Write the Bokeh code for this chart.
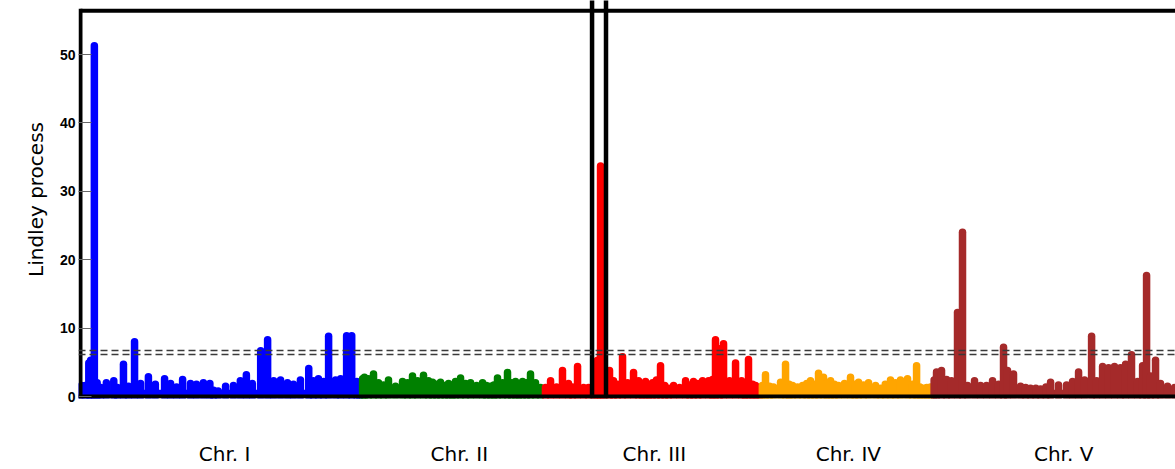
from bokeh.plotting import figure
from bokeh.models import Range1d, Span, FixedTicker
from bokeh.embed import file_html
from bokeh.resources import INLINE

# ---------------- data ----------------
chrom_names = ["Chr. I", "Chr. II", "Chr. III", "Chr. IV", "Chr. V"]
chrom_lengths = [30.43, 19.70, 23.46, 18.59, 26.98]          # Mb
chrom_colors = ["#0000FF", "#008000", "#FF0000", "#FFA500", "#A52A2A"]
label_pos = [15.6, 41.0, 62.1, 83.1, 106.4]                   # Mb, genome-wide
base_level = [1.0, 1.2, 1.0, 1.1, 1.0]

# positions within chromosome (Mb) and Lindley score of local maxima
chr1_pos = [0.1, 0.5, 0.9, 1.1, 1.5, 1.8, 2.2, 2.8, 3.6, 4.0, 4.65, 5.2, 5.85, 6.5,
            7.35, 8.1, 9.1, 9.75, 10.4, 11.05, 11.9, 12.55, 13.3, 14.0, 14.4, 14.9,
            15.7, 16.55, 17.3, 17.95, 18.6, 19.5, 20.25, 20.9, 21.65, 22.4, 23.05,
            23.8, 24.7, 25.2, 25.75, 26.3, 26.85, 27.6, 28.15, 28.8, 29.35, 29.9, 30.2]
chr1_val = [1.6, 1.6, 4.9, 5.3, 51.3, 2.0, 1.3, 2.0, 2.3, 1.3, 4.7, 1.5, 8.0, 1.9,
            2.9, 1.8, 2.6, 1.9, 1.4, 2.5, 1.9, 1.8, 2.0, 1.9, 0.9, 0.8,
            1.5, 1.6, 2.3, 3.2, 1.9, 6.7, 8.3, 2.3, 2.4, 2.0, 1.8,
            2.4, 4.1, 2.3, 2.6, 2.2, 8.8, 2.4, 2.6, 8.9, 8.9, 2.2, 1.6]

chr2_pos = [0.1, 0.3, 0.74, 1.28, 1.82, 2.36, 2.9, 3.66, 4.42, 4.96, 5.5, 6.04, 6.69,
            7.23, 7.67, 8.1, 8.53, 9.0, 9.4, 9.8, 10.15, 10.7, 11.24, 11.78, 12.43, 13.08,
            13.5, 13.94, 14.3, 14.7, 15.24, 15.78, 16.2, 16.65, 17.0, 17.41, 17.85, 18.27,
            18.81, 19.35]
chr2_val = [2.6, 2.8, 2.6, 3.3, 2.0, 1.7, 2.4, 1.5, 2.2, 2.0, 3.0, 2.3, 3.1,
            2.3, 2.1, 1.8, 2.1, 1.6, 1.9, 1.7, 2.2, 2.7, 1.9, 2.0, 1.6, 2.0,
            1.6, 1.5, 1.7, 2.7, 2.0, 3.5, 2.0, 2.2, 1.6, 2.2, 2.0, 3.3,
            2.0, 1.3]

chr3_pos = [0.19, 0.74, 1.39, 2.03, 2.68, 3.12, 3.66, 4.31, 4.85, 5.5, 5.82, 6.15,
            6.47, 7.12, 7.55, 7.99, 8.53, 9.07, 9.72, 10.26, 10.65, 11.02, 11.4, 11.77,
            12.2, 12.64, 13.1, 13.51, 14.05, 14.7, 15.35, 15.8, 16.21, 16.7, 17.19, 17.84,
            18.27, 18.59, 19.03, 19.46, 20.11, 20.76, 21.41, 21.8, 22.16, 22.6, 22.92, 23.35]
chr3_val = [1.3, 2.3, 1.4, 3.8, 1.9, 1.4, 4.4, 1.3, 1.3, 1.5, 5.3, 33.7,
            5.3, 3.8, 2.3, 1.8, 5.8, 2.0, 3.5, 2.3, 1.8, 2.2, 1.6, 2.0,
            2.4, 4.5, 1.6, 1.2, 1.6, 1.3, 2.3, 1.7, 2.2, 1.9, 2.3, 2.3,
            2.5, 8.3, 7.0, 7.7, 2.3, 4.9, 2.3, 1.8, 5.4, 1.8, 1.6, 1.3]

chr4_pos = [0.2, 0.54, 0.98, 1.41, 2.17, 2.71, 3.1, 3.47, 4.0, 4.55, 5.0, 5.41, 5.85,
            6.28, 6.82, 7.2, 7.58, 8.0, 8.44, 9.09, 9.74, 10.2, 10.61, 11.15, 11.69,
            12.45, 12.99, 13.5, 14.07, 14.6, 15.15, 15.91, 16.45, 16.89, 17.25, 17.64, 18.0, 18.4]
chr4_val = [1.6, 3.2, 1.5, 1.4, 2.1, 4.7, 1.8, 1.6, 1.4, 1.6, 1.9, 2.3, 1.8,
            3.4, 2.8, 2.0, 2.3, 1.8, 1.6, 1.9, 2.8, 1.8, 2.1, 1.7, 2.0,
            1.6, 1.2, 1.8, 2.4, 2.0, 2.4, 2.6, 1.8, 4.5, 1.4, 1.2, 1.3, 1.4]

chr5_pos = [0.2, 0.46, 1.0, 1.54, 2.08, 2.73, 3.27, 3.82, 4.57, 5.22, 5.87, 6.52,
            7.17, 7.71, 8.14, 8.79, 9.55, 10.1, 10.63, 11.2, 11.72, 12.3, 12.8, 13.66,
            14.53, 15.18, 15.83, 16.48, 17.24, 17.78, 18.43, 19.08, 19.72, 20.37, 20.92,
            21.56, 22.21, 22.76, 23.19, 23.62, 24.16, 24.7, 25.46, 26.22]
chr5_val = [2.4, 3.6, 3.8, 2.5, 2.3, 12.3, 24.0, 1.6, 2.3, 1.6, 1.6, 2.3,
            1.8, 7.2, 3.8, 3.3, 1.5, 1.3, 1.2, 1.2, 1.1, 1.4, 2.1, 1.7,
            1.7, 2.2, 3.6, 2.4, 8.8, 2.3, 4.4, 4.2, 4.4, 4.2, 4.7,
            6.1, 2.2, 4.5, 17.7, 3.0, 5.3, 1.9, 1.5, 1.3]

all_pos = [chr1_pos, chr2_pos, chr3_pos, chr4_pos, chr5_pos]
all_val = [chr1_val, chr2_val, chr3_val, chr4_val, chr5_val]

y_ticks = [0, 10, 20, 30, 40, 50]
thresholds = [6.14, 6.73]
highlight_x = [55.36, 56.87]      # boxed region on Chr. III (genome-wide Mb)

# ---------------- layout constants ----------------
X_START, X_END = -0.216, 118.5
Y_START, Y_END = -0.29, 57.9
FRAME_TOP = 56.4

p = figure(width=1175, height=469,
           x_range=Range1d(X_START, X_END), y_range=Range1d(Y_START, Y_END),
           output_backend="svg", toolbar_location=None,
           min_border_left=78, min_border_right=0, min_border_top=0, min_border_bottom=71)
p.outline_line_color = None
p.grid.visible = False
p.background_fill_color = "white"
p.border_fill_color = "white"

# chromosome offsets
offsets = []
acc = 0.0
for L in chrom_lengths:
    offsets.append(acc)
    acc += L

for i in range(5):
    off = offsets[i]
    col = chrom_colors[i]
    # baseline band of points
    p.quad(left=[off], right=[off + chrom_lengths[i]], bottom=[0], top=[base_level[i]],
           fill_color=col, line_color=None)
    xs = [off + v for v in all_pos[i]]
    p.segment(x0=xs, y0=[0] * len(xs), x1=xs, y1=all_val[i],
              line_color=col, line_width=7.5, line_cap="round")

# threshold lines
for t in thresholds:
    p.add_layout(Span(location=t, dimension="width", line_color="#3a3a3a",
                      line_width=1.4, line_dash="7 4"))

# frame borders (left, top, bottom) – right edge lies outside the picture
p.segment(x0=[0, 0, X_START], y0=[Y_START, FRAME_TOP, 0],
          x1=[0, X_END + 1, X_END + 1], y1=[FRAME_TOP + 0.3, FRAME_TOP, 0],
          line_color="black", line_width=4)

# highlight box on Chr. III
p.segment(x0=highlight_x, y0=[Y_START] * 2, x1=highlight_x, y1=[Y_END + 5] * 2,
          line_color="black", line_width=4.5)

# axes
xa = p.xaxis[0]
xa.ticker = FixedTicker(ticks=label_pos)
xa.major_label_overrides = {lp: n for lp, n in zip(label_pos, chrom_names)}
xa.axis_line_color = None
xa.major_tick_line_color = None
xa.minor_tick_line_color = None
xa.major_tick_out = 0
xa.major_tick_in = 0
xa.minor_tick_out = 0
xa.major_label_standoff = 43
xa.major_label_text_font = "DejaVu Sans"
xa.major_label_text_font_size = "20px"
xa.major_label_text_color = "black"

ya = p.yaxis[0]
ya.ticker = FixedTicker(ticks=y_ticks)
ya.axis_line_color = None
ya.minor_tick_line_color = None
ya.minor_tick_out = 0
ya.major_tick_in = 13
ya.major_tick_out = 0
ya.major_tick_line_color = "#666666"
ya.major_tick_line_width = 1.2
ya.major_label_standoff = 3
ya.major_label_text_font = "Liberation Sans"
ya.major_label_text_font_style = "bold"
ya.major_label_text_font_size = "14px"
ya.major_label_text_color = "black"
ya.axis_label = "Lindley process"
ya.axis_label_text_font = "DejaVu Sans"
ya.axis_label_text_font_style = "normal"
ya.axis_label_text_font_size = "20px"
ya.axis_label_text_color = "black"
ya.axis_label_standoff = 9

open("out.html", "w").write(file_html(p, INLINE))
